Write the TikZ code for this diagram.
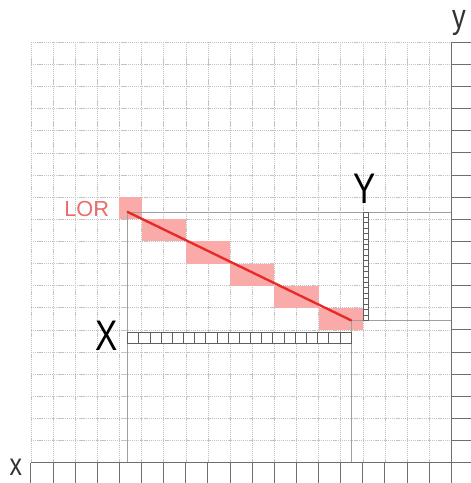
\documentclass[tikz,border=0pt]{standalone}
\usepackage{fontspec}
\setmainfont{Liberation Sans}
\usetikzlibrary{positioning,calc}
\definecolor{lorRed}{RGB}{230,42,40}
\definecolor{lorPink}{RGB}{250,170,168}
\definecolor{lorText}{RGB}{236,108,106}
\definecolor{gridGray}{RGB}{195,195,195}
\definecolor{axisGray}{RGB}{110,110,110}
\definecolor{binGray}{RGB}{95,95,95}
\definecolor{projGray}{RGB}{160,160,160}
\tikzset{
  grid line/.style={draw=gridGray,line width=0.9pt,dash pattern=on 1.6pt off 1.1pt},
  axis line/.style={draw=axisGray,line width=1.3pt},
  proj line/.style={draw=projGray,line width=0.9pt},
  pixel cell/.style={fill=lorPink,draw=none},
  bin cell/.style={draw=binGray,fill=white,line width=1.1pt},
  lor line/.style={draw=lorRed,line width=3pt,line cap=round},
  big label/.style={font=\fontsize{55}{60}\selectfont,text=black,inner sep=0pt,xscale=0.78},
  axis label/.style={font=\fontsize{44}{48}\selectfont,text=black!80,inner sep=0pt,xscale=0.8},
  lor label/.style={font=\fontsize{28}{32}\selectfont,text=lorText,inner sep=0pt}
}

\begin{document}
\begin{tikzpicture}
        \useasboundingbox (-1.40,-0.92) rectangle (19.88,20.91);
        % grid
        \foreach \i in {0,...,19} {
          \draw[grid line] (\i,0) -- (\i,19);
          \draw[grid line] (0,\i) -- (19,\i);
        }
        % pixels hit by the line
        \fill[pixel cell] (4,11) rectangle (5,12);
        \foreach \c/\r in {5/10,7/9,9/8,11/7,13/6}
          \fill[pixel cell] (\c,\r) rectangle ++(2,1);
        % line end points
        \coordinate (lorA) at (4.37,11.33);
        \coordinate (lorB) at (14.47,6.43);
        \coordinate (xfootA) at (4.37,0);
        \coordinate (xfootB) at (14.47,0);
        \coordinate (yfootA) at (19,11.33);
        \coordinate (yfootB) at (19,6.43);
        \draw[proj line] (lorA) -- (xfootA);
        \draw[proj line] (lorB) -- (xfootB);
        \draw[proj line] (lorA) -- (yfootA);
        \draw[proj line] (lorB) -- (yfootB);
        % projection bins
        \foreach \k in {0,...,19}
          \draw[bin cell] ({4.37+\k*0.505},5.38) rectangle ++(0.505,0.52);
        \foreach \k in {0,...,19}
          \draw[bin cell] (15.02,{6.43+\k*0.245}) rectangle ++(0.25,0.245);
        \draw[lor line] (lorA) -- (lorB);
        % labels
        \node[lor label,anchor=base] (lor) at (2.52,11.12) {LOR};
        \node[big label,anchor=base] (xbins) at (3.42,5.05) {X};
        \node[big label,anchor=base] (ybins) at (15.06,11.72) {Y};
        % axes
        \coordinate (origin) at (0,0);
        \coordinate (xend) at (19,0);
        \coordinate (ytop) at (19,19);
        \draw[axis line] (origin) -- (xend) -- (ytop);
        \foreach \i in {0,...,19} {
          \draw[axis line] (\i,0) -- (\i,-0.92);
          \draw[axis line] (19,\i) -- (19.88,\i);
        }
        \node[axis label,anchor=base,font=\fontsize{40}{44}\selectfont] (xaxis) at (-0.68,-0.60) {x};
        \node[axis label,anchor=base] (yaxis) at (19.34,19.64) {y};
      \end{tikzpicture}
\end{document}
